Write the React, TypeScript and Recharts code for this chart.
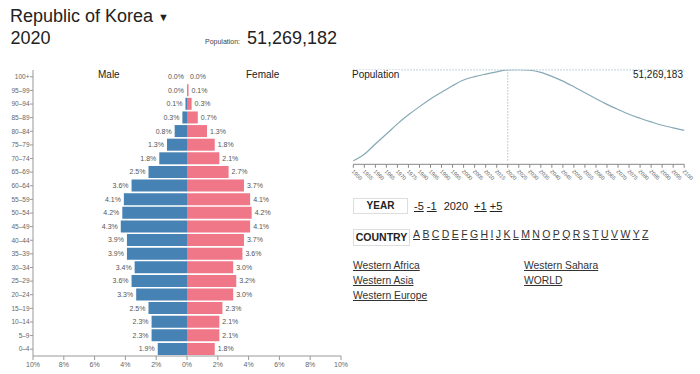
import React from "react";
import {
  BarChart,
  Bar,
  XAxis,
  YAxis,
  LabelList,
  LineChart,
  Line,
  ReferenceLine,
} from "recharts";

// age groups from youngest to oldest
const AGE_GROUPS = [
  "0–4", "5–9", "10–14", "15–19", "20–24", "25–29", "30–34", "35–39", "40–44", "45–49",
  "50–54", "55–59", "60–64", "65–69", "70–74", "75–79", "80–84", "85–89", "90–94", "95–99", "100+",
];
const MALE_PCT = [1.9, 2.3, 2.3, 2.5, 3.3, 3.6, 3.4, 3.9, 3.9, 4.3, 4.2, 4.1, 3.6, 2.5, 1.8, 1.3, 0.8, 0.3, 0.1, 0.0, 0.0];
const FEMALE_PCT = [1.8, 2.1, 2.1, 2.3, 3.0, 3.2, 3.0, 3.6, 3.7, 4.1, 4.2, 4.1, 3.7, 2.7, 2.1, 1.8, 1.3, 0.7, 0.3, 0.1, 0.0];
const PCT_TICKS = [-10, -8, -6, -4, -2, 0, 2, 4, 6, 8, 10];

const YEARS = [
  1950, 1955, 1960, 1965, 1970, 1975, 1980, 1985, 1990, 1995, 2000, 2005, 2010, 2015, 2020, 2025,
  2030, 2035, 2040, 2045, 2050, 2055, 2060, 2065, 2070, 2075, 2080, 2085, 2090, 2095, 2100,
];
// millions
const POPULATION_M = [
  19.2, 21.5, 25.1, 28.6, 32.2, 35.4, 38.3, 41.0, 43.4, 45.7, 47.7, 48.9, 49.8, 50.6, 51.27, 51.35,
  51.15, 50.4, 49.0, 47.3, 45.3, 43.2, 41.1, 39.1, 37.3, 35.6, 34.2, 32.9, 31.7, 30.8, 29.9,
];
const CURRENT_YEAR = 2020;
const CURRENT_POP = 51269183;

const LETTERS = ["A", "B", "C", "D", "E", "F", "G", "H", "I", "J", "K", "L", "M", "N", "O", "P", "Q", "R", "S", "T", "U", "V", "W", "Y", "Z"];
const LINKS_LEFT = ["Western Africa", "Western Asia", "Western Europe"];
const LINKS_RIGHT = ["Western Sahara", "WORLD"];

const FONT = '"Liberation Sans", Arial, Helvetica, sans-serif';
const MALE_COLOR = "#4682b4";
const FEMALE_COLOR = "#f07787";

const pyramidData = AGE_GROUPS.map((age, i) => ({
  age,
  male: -MALE_PCT[i],
  female: FEMALE_PCT[i],
}));

const popData = YEARS.map((year, i) => ({ year, pop: POPULATION_M[i] * 1e6 }));
const popMin = Math.min(...popData.map((d) => d.pop));
const popMax = Math.max(...popData.map((d) => d.pop));
const popDomain: [number, number] = [popMin - (popMax - popMin) * 0.04, popMax];

function barLabel(side: "male" | "female") {
  return (props: any) => {
    const vb = props.viewBox ?? props;
    const x = Number(vb.x ?? props.x);
    const y = Number(vb.y ?? props.y);
    const w = Number(vb.width ?? props.width ?? 0);
    const h = Number(vb.height ?? props.height ?? 0);
    const idx = props.index;
    const val = side === "male" ? MALE_PCT[idx] : FEMALE_PCT[idx];
    if (val === undefined || isNaN(x)) return null;
    const left = Math.min(x, x + w);
    const right = Math.max(x, x + w);
    return (
      <text
        x={side === "male" ? left - 3 : right + 3}
        y={y + h / 2}
        dy="0.35em"
        textAnchor={side === "male" ? "end" : "start"}
        fontSize={7}
        fill="#555"
        fontFamily={FONT}
      >
        {val.toFixed(1)}%
      </text>
    );
  };
}

function YearTick({ x, y, payload }: any) {
  return (
    <text
      x={x - 1}
      y={y + 1}
      transform={`rotate(45 ${x - 1} ${y + 1})`}
      fontSize={5.5}
      fill="#666"
      fontFamily={FONT}
      textAnchor="start"
      dominantBaseline="middle"
    >
      {payload.value}
    </text>
  );
}

const abs = (pos: React.CSSProperties): React.CSSProperties => ({ position: "absolute", ...pos });

export default function App() {
  return (
    <div style={{ position: "absolute", left: 0, top: 0, width: 700, height: 374, background: "#fff", fontFamily: FONT, color: "#222", overflow: "hidden" }}>
      {/* header */}
      <div style={abs({ left: 10, top: 6.5, fontSize: 18, lineHeight: "18px", whiteSpace: "nowrap" })}>
        Republic of Korea <span style={{ fontSize: 11, verticalAlign: "1px" }}>▼</span>
      </div>
      <div style={abs({ left: 10.5, top: 29, fontSize: 18, lineHeight: "18px" })}>2020</div>
      <div style={abs({ left: 205, top: 38, fontSize: 7, lineHeight: "7px", color: "#444" })}>Population:</div>
      <div style={abs({ left: 247, top: 29, fontSize: 18, lineHeight: "18px" })}>51,269,182</div>

      {/* pyramid */}
      <div style={abs({ left: 0, top: 0 })}>
        <BarChart
          width={350}
          height={374}
          layout="vertical"
          data={pyramidData}
          stackOffset="sign"
          barCategoryGap={0.6}
          margin={{ top: 70, right: 9, bottom: 0, left: 0 }}
        >
          <XAxis
            type="number"
            domain={[-10, 10]}
            ticks={PCT_TICKS}
            interval={0}
            tickFormatter={(v: number) => `${Math.abs(v)}%`}
            height={18}
            tickSize={4}
            stroke="#999"
            tick={{ fontSize: 7, fill: "#666", fontFamily: FONT }}
          />
          <YAxis
            type="category"
            dataKey="age"
            reversed
            width={33}
            interval={0}
            tickSize={3}
            tickMargin={0.5}
            stroke="#999"
            tick={{ fontSize: 6.5, fill: "#666", fontFamily: FONT }}
          />
          <Bar dataKey="male" stackId="p" fill={MALE_COLOR} minPointSize={0.01} isAnimationActive={false}>
            <LabelList dataKey="male" content={barLabel("male")} />
          </Bar>
          <Bar dataKey="female" stackId="p" fill={FEMALE_COLOR} minPointSize={0.01} isAnimationActive={false}>
            <LabelList dataKey="female" content={barLabel("female")} />
          </Bar>
        </BarChart>
      </div>
      <div style={abs({ left: 98, top: 70, fontSize: 10, lineHeight: "10px" })}>Male</div>
      <div style={abs({ left: 246, top: 70, fontSize: 10, lineHeight: "10px" })}>Female</div>

      {/* population line */}
      <div style={abs({ left: 340, top: 60 })}>
        <LineChart
          width={360}
          height={130}
          data={popData}
          margin={{ top: 9.7, right: 15.8, bottom: 0, left: 13.3 }}
        >
          <XAxis
            type="number"
            dataKey="year"
            domain={[1950, 2100]}
            ticks={YEARS}
            interval={0}
            height={25.7}
            tickSize={3.5}
            stroke="#888"
            tick={<YearTick />}
          />
          <YAxis hide domain={popDomain} allowDataOverflow />
          <ReferenceLine y={CURRENT_POP} stroke="#a9c4cf" strokeDasharray="1.5 1.5" />
          <ReferenceLine
            segment={[{ x: CURRENT_YEAR, y: popMin }, { x: CURRENT_YEAR, y: CURRENT_POP }]}
            stroke="#a9c4cf"
            strokeDasharray="1.5 1.5"
          />
          <Line type="monotone" dataKey="pop" stroke="#86a9b6" strokeWidth={1.2} dot={false} isAnimationActive={false} />
        </LineChart>
      </div>
      <div style={abs({ left: 352, top: 69.8, fontSize: 10, lineHeight: "10px", background: "#fff", paddingRight: 2 })}>Population</div>
      <div style={abs({ left: 583, width: 100, top: 69.8, fontSize: 10, lineHeight: "10px", textAlign: "right" })}>51,269,183</div>

      {/* year controls */}
      <div style={abs({ left: 353, top: 198, width: 53, height: 14, border: "1px solid #ddd", fontSize: 10, lineHeight: "14px", fontWeight: "bold", textAlign: "center" })}>YEAR</div>
      <div style={abs({ left: 414, top: 201.4, fontSize: 11, lineHeight: "11px", whiteSpace: "nowrap" })}>
        <span style={{ textDecoration: "underline" }}>-5</span>{" "}
        <span style={{ textDecoration: "underline" }}>-1</span>
        <span style={{ margin: "0 6px 0 7px" }}>2020</span>
        <span style={{ textDecoration: "underline" }}>+1</span>{" "}
        <span style={{ textDecoration: "underline" }}>+5</span>
      </div>

      {/* country controls */}
      <div style={abs({ left: 353, top: 228.5, width: 55, height: 15, border: "1px solid #ddd", fontSize: 10.5, lineHeight: "15px", fontWeight: "bold", textAlign: "center" })}>COUNTRY</div>
      <div style={abs({ left: 413, top: 229.3, display: "flex", gap: 2.4, fontSize: 10.5, lineHeight: "11px", color: "#333" })}>
        {LETTERS.map((l) => (
          <span key={l} style={{ textDecoration: "underline" }}>{l}</span>
        ))}
      </div>

      {LINKS_LEFT.map((t, i) => (
        <div key={t} style={abs({ left: 353, top: 260.6 + i * 15, fontSize: 10.3, lineHeight: "10px", color: "#333", textDecoration: "underline", whiteSpace: "nowrap" })}>{t}</div>
      ))}
      {LINKS_RIGHT.map((t, i) => (
        <div key={t} style={abs({ left: 524, top: 260.6 + i * 15, fontSize: 10.3, lineHeight: "10px", color: "#333", textDecoration: "underline", whiteSpace: "nowrap" })}>{t}</div>
      ))}
    </div>
  );
}
